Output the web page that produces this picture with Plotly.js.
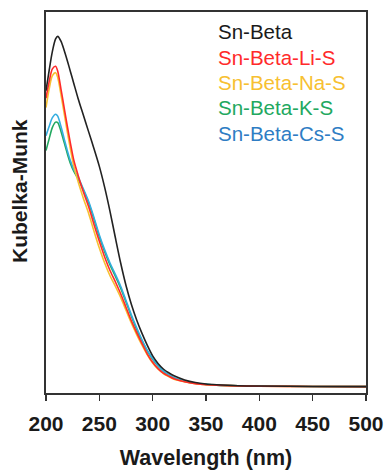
<!DOCTYPE html>
<html>
<head>
<meta charset="utf-8">
<script src="https://cdn.plot.ly/plotly-3.0.1.min.js"></script>
<style>html,body{margin:0;padding:0;background:#fff;}#chart{width:388px;height:470px;}</style>
</head>
<body>
<div id="chart"></div>
<script>
// Wavelength (nm)
const wl = [200,203,206,209,211,214,217,220,223,226,230,235,240,245,250,255,260,265,270,275,280,285,290,295,300,305,310,315,320,330,340,350,360,380,400,450,500];

// Kubelka-Munk (arbitrary units)
const snBeta = [7.9,8.45,8.95,9.28,9.35,9.22,8.98,8.7,8.4,8.1,7.7,7.25,6.8,6.35,5.88,5.32,4.68,3.98,3.3,2.7,2.2,1.78,1.42,1.1,0.82,0.62,0.47,0.37,0.29,0.18,0.11,0.07,0.05,0.025,0.015,0.005,0.0];
const snLi   = [7.7,8.15,8.48,8.55,8.42,7.95,7.45,6.95,6.48,6.05,5.65,5.2,4.8,4.33,3.88,3.46,3.1,2.8,2.48,2.12,1.76,1.44,1.15,0.87,0.65,0.48,0.36,0.28,0.21,0.13,0.08,0.05,0.035,0.02,0.012,0.005,0.0];
const snNa   = [7.45,7.95,8.3,8.38,8.25,7.8,7.3,6.8,6.33,5.9,5.48,5.03,4.62,4.15,3.7,3.3,2.96,2.68,2.38,2.04,1.7,1.39,1.11,0.85,0.63,0.47,0.35,0.27,0.2,0.13,0.08,0.05,0.035,0.02,0.012,0.005,0.0];
const snK    = [6.3,6.62,6.92,7.06,7.05,6.82,6.52,6.22,5.95,5.75,5.55,5.25,4.9,4.47,4.0,3.6,3.25,2.95,2.63,2.26,1.88,1.53,1.22,0.95,0.73,0.55,0.41,0.31,0.23,0.14,0.09,0.06,0.04,0.022,0.013,0.005,0.0];
const snCs   = [6.7,6.95,7.18,7.27,7.22,6.95,6.62,6.3,6.02,5.8,5.6,5.28,4.94,4.51,4.05,3.65,3.3,3.0,2.68,2.3,1.92,1.57,1.25,0.97,0.75,0.56,0.42,0.32,0.24,0.15,0.09,0.06,0.04,0.022,0.013,0.005,0.0];

const names = ["Sn-Beta","Sn-Beta-Li-S","Sn-Beta-Na-S","Sn-Beta-K-S","Sn-Beta-Cs-S"];
const series = [snBeta, snLi, snNa, snK, snCs];
const lineColors = ["#222222","#ff2a2a","#f7c031","#22a860","#35aee0"];
const textColors = ["#1a1a1a","#ff2a2a","#f7c031","#22a860","#2e7dc4"];
const drawOrder = [3,4,2,1,0];

const traces = drawOrder.map(i => ({
  x: wl, y: series[i], type: "scatter", mode: "lines", name: names[i],
  line: {color: lineColors[i], width: 1.6, shape: "spline", smoothing: 0.8},
  showlegend: false, hoverinfo: "skip"
}));

const font = "Liberation Sans, Arial, sans-serif";
const annotations = names.map((n, i) => ({
  xref: "paper", yref: "paper", x: (216 - 46) / 320, y: 1 - (31.7 + 25.4 * i - 12) / 381,
  xanchor: "left", yanchor: "middle", text: n, showarrow: false,
  font: {family: font, size: 20.5, color: textColors[i]}
}));
annotations.push({
  xref: "paper", yref: "paper", x: (19 - 46) / 320, y: 1 - (191 - 12) / 381,
  xanchor: "center", yanchor: "middle", text: "<b>Kubelka-Munk</b>", textangle: -90,
  showarrow: false, font: {family: font, size: 21, color: "#1a1a1a"}
});

const layout = {
  width: 388, height: 470,
  margin: {l: 46, r: 22, t: 12, b: 77},
  paper_bgcolor: "#fff", plot_bgcolor: "#fff",
  xaxis: {
    range: [200, 500], tickvals: [200,250,300,350,400,450,500],
    ticks: "outside", ticklen: 6, tickwidth: 1.5, tickcolor: "#333",
    ticklabelstandoff: 5,
    showline: true, linecolor: "#333", linewidth: 1.6, mirror: true,
    showgrid: false, zeroline: false,
    tickfont: {family: font, size: 21, color: "#1a1a1a", weight: "bold"},
    title: {text: "<b>Wavelength (nm)</b>", font: {family: font, size: 21.5, color: "#1a1a1a"}, standoff: 18}
  },
  yaxis: {
    range: [-0.17, 10], showticklabels: false, ticks: "",
    showline: true, linecolor: "#333", linewidth: 1.6, mirror: true,
    showgrid: false, zeroline: false
  },
  annotations: annotations
};

Plotly.newPlot("chart", traces, layout, {staticPlot: true, displayModeBar: false});
</script>
</body>
</html>
